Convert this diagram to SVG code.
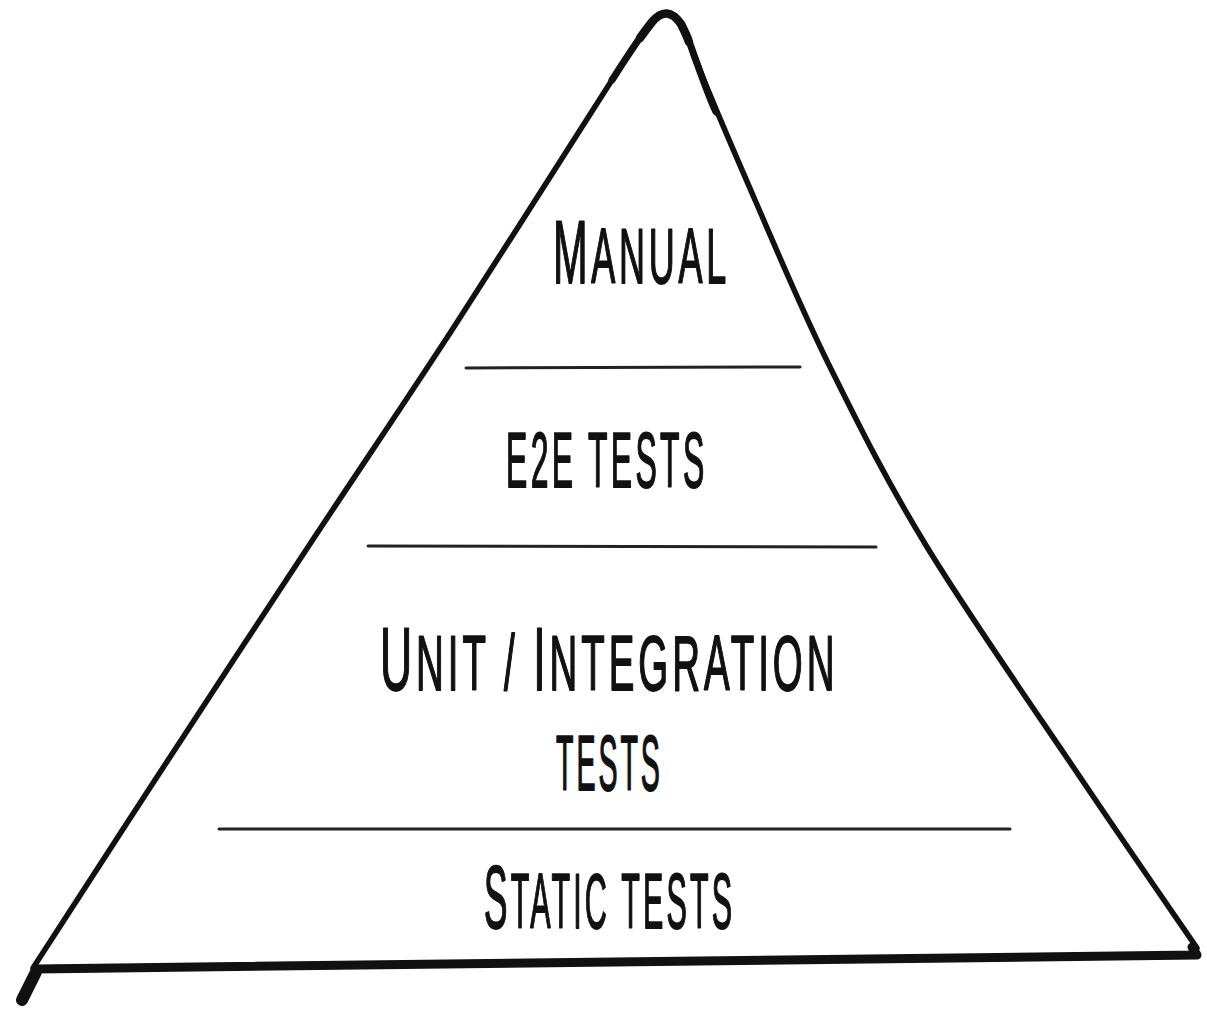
<svg xmlns="http://www.w3.org/2000/svg" width="1207" height="1009" viewBox="0 0 1207 1009">
<style>
.lbl{font-family:"Liberation Sans",Arial,sans-serif;text-transform:uppercase;font-size:77px;letter-spacing:8px;fill:#111;stroke:#111;stroke-width:1.8;stroke-linejoin:round;}
.big{font-size:89px;}
.edge{fill:none;stroke:#111;stroke-linecap:round;stroke-linejoin:round;}
.div{fill:none;stroke:#222;stroke-width:3;stroke-linecap:round;}
</style>
<rect width="1207" height="1009" fill="#fff"/>
<g id="pyramid">
<path class="edge" stroke-width="5.5" d="M33,968 C53.3,936.7 109.2,850.2 155,780 C200.8,709.8 258.5,622 308,547 C357.5,472 401.3,407.8 452,330 C502.7,252.2 578.7,131 612,80 C630,52 640,36 652,22 Q667,4 681,24 C686,34 690,42 693.3,53.3 C705,85 730.2,142.8 755,200 C779.8,257.2 801.3,309.2 830,367 C858.7,424.8 885,478.2 927,547 C969,615.8 1037,713.2 1082,780 C1127,846.8 1177.8,920 1197,948"/>
<path class="edge" stroke-width="7" d="M612,80 C630,52 640,36 652,22 Q667,4 681,24 C686,34 690,42 693.3,53.3 C705,85 710,100 716,112"/>
<path class="edge" stroke-width="8.5" d="M640,38 C645,31 648,27 652,22 Q667,4 681,24 C684,30 687,36 689,42"/>
<path class="edge" stroke-width="9" d="M36,969 C300,963 700,959 1197,955 L1192,947"/>
<path class="edge" stroke-width="12" d="M36,972 L22,1000"/>
</g>
<g id="connectors">
<path class="div" d="M466,368 L800,367"/>
<path class="div" d="M368,546 L876,547"/>
<path class="div" d="M219,829 L1010,829"/>
</g>
<g id="manual"><text class="lbl" transform="translate(553,283) scale(0.467,1)"><tspan class="big">M</tspan><tspan>anual</tspan></text></g>
<g id="e2e"><text class="lbl" transform="translate(506,487) scale(0.415,1)">E2E tests</text></g>
<g id="unit"><text class="lbl" transform="translate(380,690) scale(0.499,1)"><tspan class="big">U</tspan><tspan>nit / </tspan><tspan class="big">I</tspan><tspan>ntegration</tspan></text>
<text class="lbl" transform="translate(556,790) scale(0.371,1)">tests</text></g>
<g id="static"><text class="lbl" transform="translate(484,928) scale(0.396,1)"><tspan class="big">S</tspan><tspan>tatic tests</tspan></text></g>
</svg>
